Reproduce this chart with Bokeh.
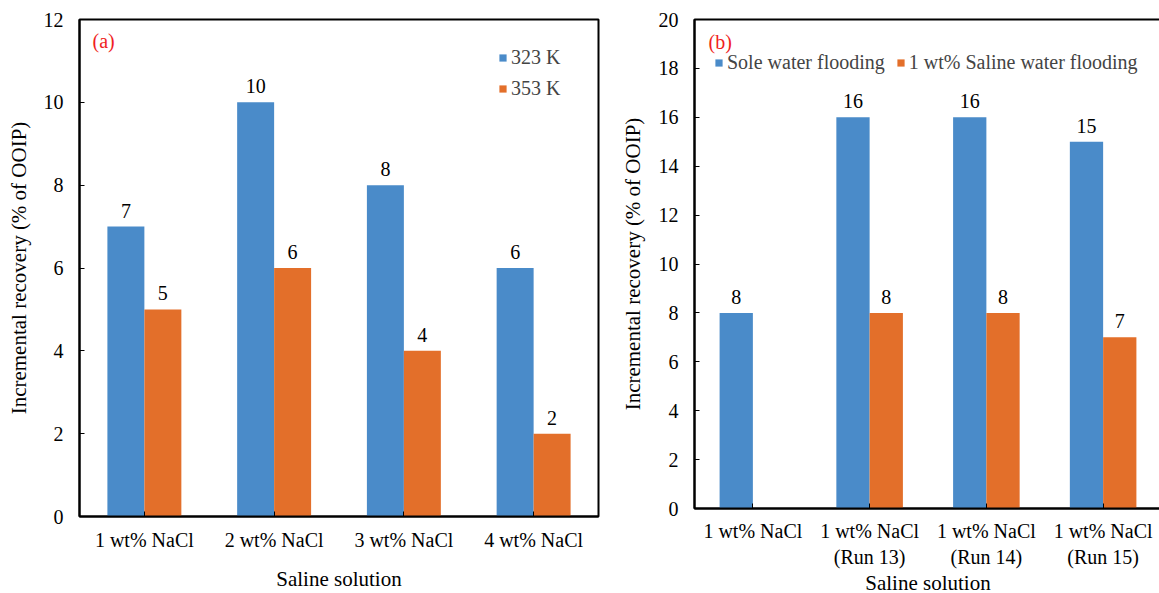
from bokeh.plotting import figure
from bokeh.layouts import row
from bokeh.models import (ColumnDataSource, FactorRange, FixedTicker, Legend,
                          LegendItem, Label, Range1d)
from bokeh.transform import dodge
from bokeh.core.properties import value
from bokeh.embed import file_html
from bokeh.resources import INLINE

# ---- data ----
cats_a = ["1 wt% NaCl", "2 wt% NaCl", "3 wt% NaCl", "4 wt% NaCl"]
k323 = [7, 10, 8, 6]
k353 = [5, 6, 4, 2]

cats_b = ["1 wt% NaCl", "1 wt% NaCl\n(Run 13)", "1 wt% NaCl\n(Run 14)", "1 wt% NaCl\n(Run 15)"]
sole = [8, 16, 16, 15]
saline = [None, 8, 8, 7]

ticks_a = [0, 2, 4, 6, 8, 10, 12]
ticks_b = [0, 2, 4, 6, 8, 10, 12, 14, 16, 18, 20]

AX_FONT = "Liberation Serif"
GL_FONT = "'Liberation Serif'"
FS = "20px"
FS_TITLE = "21px"
BLUE = "#4a8bc9"
ORANGE = "#e36f2a"
RED = "#f01e23"
W = 0.285


def style(p, ticks):
    p.xgrid.visible = False
    p.ygrid.visible = False
    p.outline_line_color = "black"
    p.outline_line_width = 2
    p.yaxis.ticker = FixedTicker(ticks=ticks)
    for ax in (p.xaxis[0], p.yaxis[0]):
        ax.axis_line_color = "black"
        ax.axis_line_width = 2
        ax.major_tick_in = 5
        ax.major_tick_out = 0
        ax.major_tick_line_color = "black"
        ax.major_tick_line_width = 1
        ax.minor_tick_line_color = None
        ax.major_label_text_font = AX_FONT
        ax.major_label_text_font_size = FS
        ax.major_label_text_color = "black"
        ax.axis_label_text_font = AX_FONT
        ax.axis_label_text_font_size = FS_TITLE
        ax.axis_label_text_font_style = "normal"
        ax.axis_label_text_color = "black"
    p.yaxis.major_label_standoff = 16
    p.yaxis.axis_label_standoff = 10
    p.background_fill_color = "white"
    p.border_fill_color = "white"


def bar_labels(p, src, xoff, field, lfield):
    p.text(x=dodge("cat", xoff, range=p.x_range), y=field, text=lfield, source=src,
           text_align="center", text_baseline="middle", y_offset=-16,
           text_font=value(GL_FONT), text_font_size=FS, text_color="black")


# ---- panel (a) ----
src_a = ColumnDataSource(dict(cat=cats_a, a=k323, b=k353,
                              al=[str(v) for v in k323], bl=[str(v) for v in k353]))
FH_A = 497
pa = figure(x_range=FactorRange(*cats_a), y_range=Range1d(0, 12),
            frame_width=519, frame_height=FH_A, output_backend="svg", toolbar_location=None,
            min_border_left=79, min_border_right=19, min_border_top=19, min_border_bottom=70)
style(pa, ticks_a)
pa.xaxis.major_label_standoff = 12
pa.xaxis.axis_label_standoff = 13
pa.xaxis.axis_label = "Saline solution"
pa.yaxis.axis_label = "Incremental recovery (% of OOIP)"

ra1 = pa.vbar(x=dodge("cat", -W / 2, range=pa.x_range), top="a", width=W, source=src_a,
              fill_color=BLUE, line_color=None)
ra2 = pa.vbar(x=dodge("cat", W / 2, range=pa.x_range), top="b", width=W, source=src_a,
              fill_color=ORANGE, line_color=None)
bar_labels(pa, src_a, -W / 2, "a", "al")
bar_labels(pa, src_a, W / 2, "b", "bl")

leg_a = Legend(items=[LegendItem(label="323 K", renderers=[ra1]),
                      LegendItem(label="353 K", renderers=[ra2])],
               location=(419, FH_A - 81), orientation="vertical",
               label_text_font=AX_FONT, label_text_font_size=FS,
               glyph_width=9, glyph_height=9, label_standoff=4,
               padding=0, margin=0, spacing=8,
               background_fill_alpha=0, border_line_color=None)
pa.add_layout(leg_a)
pa.add_layout(Label(x=0.1, y=11.47, text="(a)", text_font=GL_FONT, text_font_size=FS,
                    text_color=RED, text_baseline="middle"))

# ---- panel (b) ----
src_b1 = ColumnDataSource(dict(cat=cats_b, v=sole, l=[str(v) for v in sole]))
cb2 = [c for c, v in zip(cats_b, saline) if v is not None]
vb2 = [v for v in saline if v is not None]
src_b2 = ColumnDataSource(dict(cat=cb2, v=vb2, l=[str(v) for v in vb2]))

FH_B = 489
pb = figure(x_range=FactorRange(*cats_b), y_range=Range1d(0, 20),
            frame_width=467, frame_height=FH_B, output_backend="svg", toolbar_location=None,
            min_border_left=71, min_border_right=2, min_border_top=19, min_border_bottom=70)
style(pb, ticks_b)
pb.yaxis.axis_label_standoff = 11
pb.xaxis.major_label_standoff = 11
pb.xaxis.axis_label_standoff = 0
pb.xaxis.axis_label = "Saline solution"
pb.yaxis.axis_label = "Incremental recovery (% of OOIP)"

rb1 = pb.vbar(x=dodge("cat", -W / 2, range=pb.x_range), top="v", width=W, source=src_b1,
              fill_color=BLUE, line_color=None)
rb2 = pb.vbar(x=dodge("cat", W / 2, range=pb.x_range), top="v", width=W, source=src_b2,
              fill_color=ORANGE, line_color=None)
bar_labels(pb, src_b1, -W / 2, "v", "l")
bar_labels(pb, src_b2, W / 2, "v", "l")

leg_b = Legend(items=[LegendItem(label="Sole water flooding", renderers=[rb1]),
                      LegendItem(label="1 wt% Saline water flooding", renderers=[rb2])],
               location=(20, FH_B - 55), orientation="horizontal",
               label_text_font=AX_FONT, label_text_font_size=FS,
               glyph_width=9, glyph_height=9, label_standoff=4,
               padding=0, margin=0, spacing=11,
               background_fill_alpha=0, border_line_color=None)
pb.add_layout(leg_b)
pb.add_layout(Label(x=0.12, y=19.1, text="(b)", text_font=GL_FONT, text_font_size=FS,
                    text_color=RED, text_baseline="middle"))

layout = row(pa, pb)
open("out.html", "w").write(file_html(layout, INLINE))
